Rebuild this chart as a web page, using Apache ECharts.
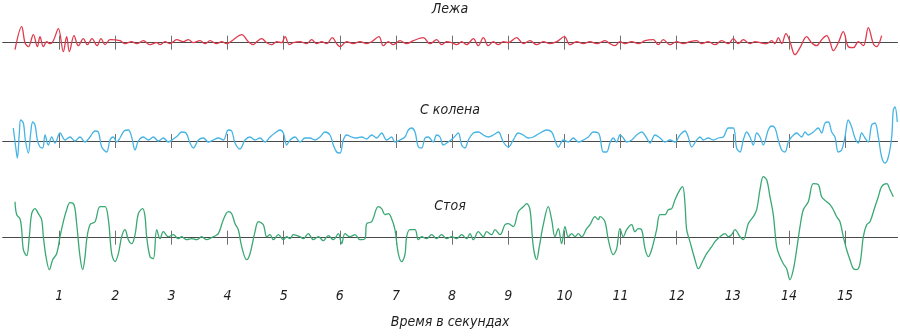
<!DOCTYPE html>
<html>
<head>
<meta charset="utf-8">
<script src="https://cdn.jsdelivr.net/npm/echarts@6/dist/echarts.min.js"></script>
<style>html,body{margin:0;padding:0;background:#fff}#c{width:900px;height:336px}</style>
</head>
<body>
<div id="c"></div>
<script>
// Titles and axis text
const traceTitles = ['Лежа', 'С колена', 'Стоя'];
const axisTitle = 'Время в секундах';
const tickSeconds = [1,2,3,4,5,6,7,8,9,10,11,12,13,14,15];

// Red trace (lying) — time in seconds, deviation values
const redT = [0.214,0.333,0.392,0.452,0.541,0.612,0.659,0.719,0.778,0.838,0.897,0.986,1.075,1.134,1.182,1.265,1.342,1.431,1.503,1.586,1.675,1.746,1.817,1.906,
2.084,2.173,2.292,2.381,2.500,2.619,2.738,2.797,2.886,2.975,3.094,3.213,3.302,3.391,3.509,3.599,3.688,3.806,3.895,3.984,4.103,4.252,4.370,4.459,4.519,4.608,4.697,4.786,4.875,4.964,5.024,5.101,5.172,
5.290,5.409,5.498,5.587,5.676,5.765,5.866,5.943,6.003,6.121,6.240,6.359,6.478,6.567,6.697,6.774,6.863,6.953,7.071,7.190,7.309,7.487,7.606,7.724,7.813,7.903,7.992,8.081,8.170,8.259,8.378,8.467,8.556,8.645,8.734,8.823,8.912,9.001,9.149,9.268,9.387,9.506,9.624,9.743,9.862,9.999,10.099,10.218,10.337,10.456,10.574,
10.634,10.723,10.812,10.901,10.990,11.079,11.198,11.317,11.436,11.584,11.673,11.762,11.881,11.999,12.118,12.237,12.356,12.445,12.564,12.682,12.801,12.920,13.009,13.098,13.187,13.306,13.395,13.484,13.603,13.692,13.751,13.811,13.870,13.947,14.018,14.107,14.197,14.315,14.404,14.493,14.582,14.672,14.731,14.790,14.879,14.968,15.057,15.147,15.236,15.325,15.414,15.503,15.562,15.651];
const redV = [-7,16,0,-4,8,-4,6,-4,1,-1,2,14,-9,6,-9,7,-3,4,-2,4,-3,4,-2,3,
2,-1,1,-1,2,-2,0,-2,1,-1,3,1,3,0,2,-1,2,-1,1,-1,3,8,1,-2,1,4,0,-2,1,0,6,-2,0,
1,-1,3,-1,1,-1,5,-1,-4,1,-1,1,-1,1,6,-3,1,-2,2,-1,2,5,-1,3,-2,1,0,-2,1,-2,4,-3,5,-3,1,-2,1,0,5,-1,2,-2,1,-1,1,6,-2,1,-1,1,-1,
0,2,-1,-3,1,-1,1,-1,2,3,-2,3,-2,1,-1,1,2,-1,1,-2,2,-1,4,-1,3,-1,1,0,-1,2,-1,5,-1,9,1,-12,-5,6,0,-3,3,7,1,-8,0,11,-4,-5,1,-3,15,-1,-4,7];

// Blue trace (kneeling)
const blueT = [0.184,0.226,0.256,0.291,0.315,0.363,0.398,0.452,0.493,0.529,0.570,0.612,0.659,0.707,0.749,0.808,0.867,0.927,1.016,1.105,1.194,1.283,1.372,1.461,1.550,1.639,1.699,1.758,1.847,1.906,1.966,2.025,2.084,2.156,2.233,2.292,2.352,2.411,2.500,2.589,2.678,2.767,2.856,2.945,3.034,3.106,3.183,3.260,3.331,3.391,3.480,3.569,3.658,3.747,3.836,3.925,4.014,4.074,4.133,4.222,4.311,4.400,4.489,4.578,4.667,4.756,4.845,4.935,4.994,5.053,5.113,5.202,
5.290,5.379,5.468,5.557,5.646,5.735,5.824,5.884,5.943,6.003,6.062,6.121,6.210,6.299,6.388,6.478,6.567,6.656,6.745,6.834,6.923,6.982,7.071,7.160,7.220,7.279,7.339,7.398,7.457,7.517,7.576,7.665,7.724,7.784,7.843,7.932,8.021,8.110,8.170,8.229,8.289,8.378,8.467,8.556,8.645,8.734,8.823,8.912,9.001,9.090,9.179,9.268,9.357,9.446,9.565,9.684,9.773,9.832,9.892,9.981,10.070,10.159,10.248,10.337,10.426,10.515,10.604,
10.634,10.693,10.753,10.812,10.871,10.931,10.990,11.050,11.109,11.198,11.287,11.376,11.465,11.525,11.614,11.703,11.792,11.881,11.970,12.059,12.148,12.207,12.267,12.356,12.415,12.475,12.564,12.653,12.742,12.831,12.920,13.009,13.068,13.128,13.187,13.247,13.306,13.365,13.425,13.484,13.543,13.632,13.692,13.751,13.811,13.870,13.929,13.989,14.048,14.137,14.226,14.286,14.345,14.434,14.523,14.582,14.642,14.701,14.761,14.820,14.879,14.939,14.998,15.057,15.117,15.176,15.236,15.295,15.354,15.414,15.473,15.532,15.592,15.651,15.711,15.770,15.830,15.859,15.889,15.930];
const blueV = [13,-6,-17,8,21,18,1,-12,8,19,16,1,-6,-7,6,-4,4,-2,8,1,4,0,4,-1,4,10,9,-6,-11,1,4,-1,3,10,11,4,-9,0,4,1,4,0,3,-1,2,5,9,8,-2,-7,1,3,-1,1,3,1,11,10,-2,-8,1,4,1,3,-1,4,8,11,8,-4,1,4,
-1,3,3,1,4,9,6,-4,-11,-12,1,6,4,3,4,2,6,3,8,1,4,-1,1,4,11,13,9,-6,-7,3,4,-1,6,4,-4,-1,3,8,-4,-7,1,8,9,6,4,6,9,-1,-6,1,8,6,3,4,8,11,9,1,-6,1,-1,3,-1,1,4,9,8,
4,-11,-11,-2,3,-1,6,3,-1,1,6,9,3,-2,6,3,-1,1,-1,6,10,4,-6,1,4,1,3,1,3,4,13,13,-7,-11,1,9,4,-4,8,4,-4,11,15,13,1,-9,-11,-1,4,8,4,9,6,9,13,8,18,19,9,4,-11,-9,4,21,14,3,-2,8,3,-1,16,18,4,-16,-22,-16,4,31,34,19];

// Green trace (standing)
const greenT = [0.214,0.244,0.303,0.333,0.363,0.422,0.469,0.511,0.570,0.630,0.689,0.719,0.766,0.826,0.885,0.956,1.016,1.075,1.134,1.194,1.265,1.312,1.372,1.419,1.461,1.491,1.550,1.639,1.728,1.817,1.877,1.936,1.996,2.055,2.114,2.173,2.233,2.292,2.352,2.411,2.488,2.530,2.559,2.619,2.678,2.738,2.797,2.856,2.945,3.034,3.123,3.183,3.272,3.361,3.450,3.539,3.628,3.747,3.836,3.925,4.014,4.074,4.133,4.192,4.252,4.340,4.400,4.489,4.548,4.638,4.697,4.756,4.816,4.905,4.994,5.053,5.113,5.172,
5.290,5.349,5.438,5.528,5.617,5.706,5.795,5.884,5.973,6.032,6.092,6.181,6.270,6.359,6.448,6.478,6.567,6.685,6.745,6.804,6.863,6.923,6.982,7.042,7.101,7.160,7.190,7.249,7.339,7.398,7.457,7.546,7.635,7.724,7.813,7.903,7.992,8.081,8.170,8.259,8.318,8.378,8.467,8.556,8.615,8.704,8.763,8.853,8.942,9.001,9.090,9.179,9.268,9.328,9.387,9.446,9.506,9.553,9.624,9.713,9.773,9.832,9.892,9.951,10.010,10.070,10.129,10.189,10.248,10.307,10.396,10.456,10.545,10.604,
10.634,10.723,10.782,10.871,10.931,10.990,11.050,11.109,11.198,11.257,11.317,11.376,11.436,11.495,11.554,11.643,11.703,11.792,11.851,11.911,11.970,12.059,12.107,12.148,12.178,12.237,12.326,12.386,12.475,12.534,12.623,12.682,12.772,12.861,12.920,12.979,13.039,13.128,13.187,13.276,13.365,13.425,13.484,13.543,13.603,13.662,13.721,13.781,13.840,13.900,13.959,14.018,14.078,14.137,14.197,14.256,14.345,14.434,14.523,14.582,14.672,14.731,14.790,14.850,14.909,14.968,15.028,15.087,15.147,15.206,15.265,15.325,15.384,15.444,15.532,15.592,15.651,15.741,15.800,15.859];
const greenV = [36,23,19,8,-12,-18,1,24,29,24,18,1,-19,-32,-22,-16,1,16,28,35,33,14,-19,-32,-19,-2,13,16,31,31,18,-16,-24,-16,1,8,-2,-6,3,24,29,21,1,-19,-21,8,-1,6,1,3,-1,1,-2,-1,-2,1,-2,1,4,18,26,24,14,8,-9,-22,-16,6,16,13,1,3,-2,3,-2,1,-1,3,
1,-1,4,-2,1,-3,2,-2,4,-6,4,1,3,-2,-1,14,16,31,29,23,24,19,8,-16,-24,-17,1,8,8,-2,1,-1,3,-1,3,-1,1,-1,3,-1,4,-2,6,1,6,3,8,3,13,14,11,26,31,34,28,-9,-22,-9,13,31,18,1,9,-6,11,1,4,1,4,1,9,13,21,18,
21,16,-2,-17,-11,9,1,8,13,6,9,8,-11,-19,-12,8,23,23,28,29,38,48,51,34,8,-4,-22,-31,-22,-16,-9,-4,1,4,1,3,8,1,-2,14,21,28,48,61,58,41,23,-9,-19,-26,-31,-42,-32,-12,11,28,36,54,53,41,36,33,28,21,16,1,-12,-22,-31,-32,-26,1,13,16,31,41,51,54,48,41];

const FONT = "'DejaVu Sans Condensed', Roboto, sans-serif";
const FS = 14;
const X_MAX = 15.93;
const gridLeft = 3, gridWidth = 894.3;
const grids = [
  {left: gridLeft, width: gridWidth, top: 22.7, height: 40},   // red: -20..20
  {left: gridLeft, width: gridWidth, top: 101, height: 70},    // blue: -30..40
  {left: gridLeft, width: gridWidth, top: 167.7, height: 120}  // green: -50..70
];
const yRanges = [[-20,20],[-30,40],[-50,70]];

const xAxes = [];
for (let g = 0; g < 3; g++) {
  [true, false].forEach(inside => {
    xAxes.push({
      type: 'value', gridIndex: g, min: 0, max: X_MAX, position: 'bottom',
      axisLine: {show: true, onZero: true, onZeroAxisIndex: g, lineStyle: {color: '#4a4a4a', width: 1.2}},
      axisTick: {show: true, inside: inside, length: 7, customValues: tickSeconds, lineStyle: {color: '#707070', width: 1}},
      axisLabel: {show: false}, splitLine: {show: false}
    });
  });
}
xAxes.push({
  type: 'value', gridIndex: 2, min: 0, max: X_MAX, position: 'bottom',
  axisLine: {show: false, onZero: false}, axisTick: {show: false}, splitLine: {show: false},
  axisLabel: {show: true, customValues: tickSeconds, margin: 2, fontSize: FS, fontStyle: 'italic', fontFamily: FONT, color: '#1e1e1e'},
  name: axisTitle, nameLocation: 'middle', nameGap: 28,
  nameTextStyle: {fontSize: FS, fontStyle: 'italic', fontFamily: FONT, color: '#1e1e1e'}
});

const yAxes = yRanges.map((r, g) => ({type: 'value', gridIndex: g, min: r[0], max: r[1], show: false}));

const zip = (T, V) => T.map((t, i) => [t, V[i]]);
const colors = ['#e03a4c', '#45b4e4', '#3aa874'];
const seriesData = [zip(redT, redV), zip(blueT, blueV), zip(greenT, greenV)];
const series = seriesData.map((d, g) => ({
  type: 'line', xAxisIndex: g * 2, yAxisIndex: g, data: d,
  showSymbol: false, smooth: 0.35, lineStyle: {color: colors[g], width: 1.3}, z: 3
}));

const titleTops = [2, 103, 199];
const title = traceTitles.map((t, i) => ({
  text: t, left: 'center', top: titleTops[i], padding: 0,
  textStyle: {fontSize: FS, fontStyle: 'italic', fontWeight: 'normal', fontFamily: FONT, color: '#1e1e1e'}
}));

const chart = echarts.init(document.getElementById('c'), null, {renderer: 'canvas'});
chart.setOption({animation: false, title, grid: grids, xAxis: xAxes, yAxis: yAxes, series});
</script>
</body>
</html>
